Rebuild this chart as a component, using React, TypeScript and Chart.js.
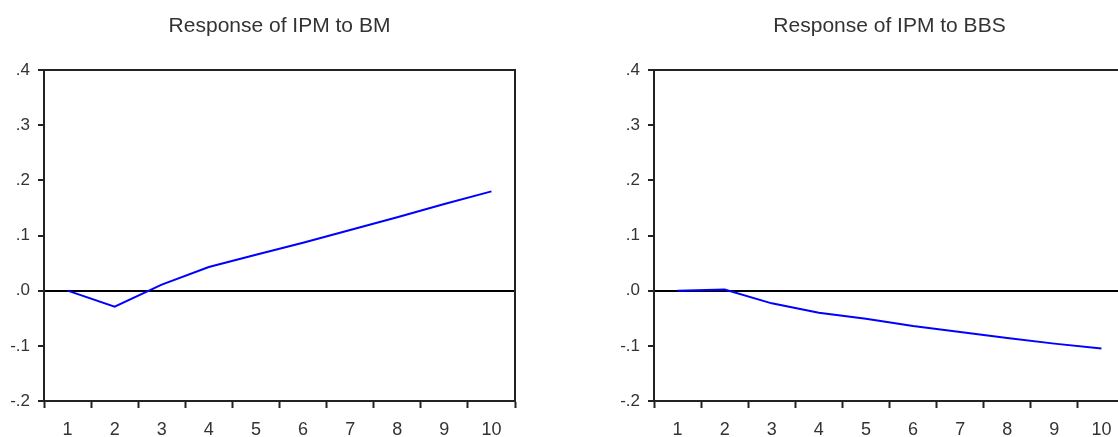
import React, { useEffect, useRef } from "react";
import { Chart, registerables } from "chart.js";

Chart.register(...registerables);

const periods = ["1", "2", "3", "4", "5", "6", "7", "8", "9", "10"];
const responseToBM = [0.0, -0.029, 0.011, 0.043, 0.065, 0.087, 0.11, 0.133, 0.157, 0.18];
const responseToBBS = [0.0, 0.002, -0.023, -0.04, -0.051, -0.064, -0.075, -0.086, -0.096, -0.105];
const yTickValues = [-0.2, -0.1, 0.0, 0.1, 0.2, 0.3, 0.4];
const yTickLabels = ["-.2", "-.1", ".0", ".1", ".2", ".3", ".4"];
const titleBM = "Response of IPM to BM";
const titleBBS = "Response of IPM to BBS";

const FONT = "'Liberation Sans', Arial, sans-serif";
const AXIS = "#222222";
const TEXT = "#333333";

const framePlugin = {
  id: "frameBox",
  afterDatasetsDraw(chart: any) {
    const { ctx, chartArea } = chart;
    ctx.save();
    ctx.strokeStyle = AXIS;
    ctx.lineWidth = 2;
    ctx.beginPath();
    ctx.moveTo(chartArea.left - 6, chartArea.top);
    ctx.lineTo(chartArea.right, chartArea.top);
    ctx.lineTo(chartArea.right, chartArea.bottom);
    ctx.stroke();
    ctx.restore();
  },
};

function makeConfig(title: string, values: number[], padLeft: number, padRight: number) {
  return {
    type: "line" as const,
    data: {
      labels: periods,
      datasets: [
        {
          data: values,
          borderColor: "#0000ff",
          borderWidth: 2,
          pointRadius: 0,
          tension: 0,
          fill: false,
        },
      ],
    },
    options: {
      animation: false,
      responsive: false,
      maintainAspectRatio: false,
      events: [],
      layout: { padding: { left: padLeft, right: padRight, top: 0, bottom: 0 } },
      plugins: {
        legend: { display: false },
        tooltip: { enabled: false },
        title: {
          display: true,
          text: title,
          fullSize: false,
          color: TEXT,
          font: { family: FONT, size: 21, weight: "normal", lineHeight: 1.2 },
          padding: { top: 14, bottom: 30.8 },
        },
      },
      scales: {
        x: {
          type: "category",
          offset: true,
          grid: {
            offset: true,
            drawOnChartArea: false,
            drawTicks: true,
            tickLength: 7,
            tickWidth: 2,
            tickColor: AXIS,
          },
          border: { display: true, color: AXIS, width: 2 },
          ticks: {
            color: TEXT,
            font: { family: FONT, size: 18 },
            padding: 11,
            maxRotation: 0,
            autoSkip: false,
          },
          afterFit: (s: any) => {
            s.height = 36;
          },
        },
        y: {
          min: -0.2,
          max: 0.4,
          afterBuildTicks: (s: any) => {
            s.ticks = yTickValues.map((v) => ({ value: v }));
          },
          grid: {
            drawOnChartArea: true,
            color: (c: any) => (c.tick && Math.abs(c.tick.value) < 1e-9 ? "#000000" : "rgba(0,0,0,0)"),
            lineWidth: 2,
            tickLength: 6,
            tickWidth: 2,
            tickColor: AXIS,
          },
          border: { display: true, color: AXIS, width: 2 },
          ticks: {
            color: TEXT,
            font: { family: FONT, size: 17 },
            padding: 8,
            callback: (_v: any, i: number) => yTickLabels[i],
          },
          afterFit: (s: any) => {
            s.width = 44;
          },
        },
      },
    },
    plugins: [framePlugin],
  };
}

function Panel(props: { title: string; values: number[]; left: number; width: number; padLeft: number; padRight: number }) {
  const ref = useRef<HTMLCanvasElement | null>(null);
  useEffect(() => {
    if (!ref.current) return;
    const chart = new Chart(ref.current, makeConfig(props.title, props.values, props.padLeft, props.padRight) as any);
    return () => chart.destroy();
  }, []);
  return (
    <canvas
      ref={ref}
      width={props.width}
      height={437}
      style={{ position: "absolute", left: props.left, top: 0, width: props.width, height: 437 }}
    />
  );
}

export default function App() {
  return (
    <div
      style={{
        position: "fixed",
        left: 0,
        top: 0,
        width: 1118,
        height: 437,
        overflow: "hidden",
        background: "#ffffff",
      }}
    >
      <Panel title={titleBM} values={responseToBM} left={0} width={560} padLeft={0} padRight={45} />
      <Panel title={titleBBS} values={responseToBBS} left={560} width={620} padLeft={50} padRight={55} />
    </div>
  );
}
